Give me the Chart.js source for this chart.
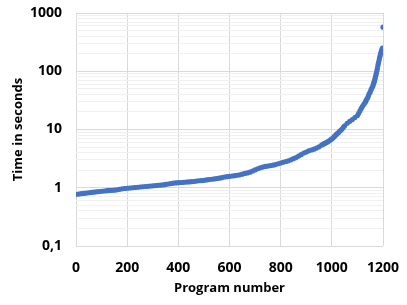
<!DOCTYPE html>
<html>
<head>
<meta charset="utf-8">
<script src="https://cdn.jsdelivr.net/npm/chart.js@4"></script>
<style>
  html, body { margin: 0; padding: 0; background: #fff; }
  #wrap { width: 407px; height: 305px; }
</style>
</head>
<body>
<div id="wrap"><canvas id="runChart"></canvas></div>
<script>
// values
const programNumber = [
  0, 10, 20, 30, 40, 50, 60, 70, 80, 90,
  100, 110, 120, 130, 140, 150, 160, 170, 180, 190,
  200, 210, 220, 230, 240, 250, 260, 270, 280, 290,
  300, 310, 320, 330, 340, 350, 360, 370, 380, 390,
  400, 410, 420, 430, 440, 450, 460, 470, 480, 490,
  500, 510, 520, 530, 540, 550, 560, 570, 580, 590,
  600, 610, 620, 630, 640, 650, 660, 670, 680, 690,
  700, 710, 720, 730, 740, 750, 760, 770, 780, 790,
  800, 810, 820, 830, 840, 850, 860, 870, 880, 890,
  900, 910, 920, 930, 940, 950, 960, 965, 970, 975,
  980, 985, 990, 995, 1000, 1005, 1010, 1015, 1020, 1025,
  1030, 1035, 1040, 1045, 1050, 1060, 1070, 1080, 1090, 1100,
  1105, 1110, 1115, 1120, 1125, 1130, 1133, 1136, 1140, 1143,
  1146, 1150, 1153, 1156, 1160, 1162, 1164, 1166, 1168, 1170,
  1172, 1174, 1176, 1178, 1180, 1182, 1184, 1186, 1188, 1190,
  1192, 1194, 1196, 1198, 1200
];
const timeSeconds = [
  0.77, 0.78, 0.79, 0.80, 0.81, 0.82, 0.83, 0.84, 0.85, 0.86,
  0.87, 0.88, 0.89, 0.90, 0.905, 0.91, 0.92, 0.94, 0.96, 0.97,
  0.98, 0.99, 1.00, 1.01, 1.02, 1.03, 1.04, 1.05, 1.06, 1.07,
  1.08, 1.09, 1.10, 1.11, 1.12, 1.14, 1.16, 1.18, 1.20, 1.21,
  1.22, 1.23, 1.24, 1.25, 1.26, 1.27, 1.28, 1.30, 1.32, 1.33,
  1.34, 1.36, 1.38, 1.40, 1.42, 1.44, 1.46, 1.49, 1.53, 1.55,
  1.57, 1.59, 1.61, 1.64, 1.67, 1.71, 1.76, 1.80, 1.85, 1.93,
  2.02, 2.12, 2.20, 2.26, 2.32, 2.36, 2.40, 2.44, 2.50, 2.58,
  2.66, 2.74, 2.82, 2.90, 3.02, 3.15, 3.30, 3.50, 3.70, 3.95,
  4.10, 4.30, 4.45, 4.60, 4.80, 5.05, 5.40, 5.55, 5.70, 5.85,
  6.00, 6.20, 6.40, 6.65, 6.90, 7.20, 7.60, 8.00, 8.40, 8.80,
  9.30, 9.70, 10.2, 10.9, 11.6, 12.8, 13.8, 14.8, 16.0, 17.4,
  19.0, 21.0, 23.0, 25.0, 27.0, 29.0, 31.0, 33.0, 35.0, 38.0,
  41.0, 44.0, 48.0, 51.0, 55.0, 59.0, 63.0, 67.0, 72.0, 78.0,
  85.0, 92.0, 102, 112, 125, 137, 150, 165, 180, 195,
  210, 225, 238, 250, 570
];

const xTicks = [0, 200, 400, 600, 800, 1000, 1200];
const xTickLabels = ['0', '200', '400', '600', '800', '1000', '1200'];
const yTicks = [0.1, 1, 10, 100, 1000];
const yTickLabels = ['0,1', '1', '10', '100', '1000'];

// minor grid at 2..9 in each decade
const yGrid = [];
for (let i = 0; i < yTicks.length - 1; i++) {
  for (let m = 1; m <= 9; m++) yGrid.push(yTicks[i] * m);
}
yGrid.push(yTicks[yTicks.length - 1]);

const points = programNumber.map((p, i) => ({ x: p, y: timeSeconds[i] }));

const tickFont = { family: 'Open Sans', size: 14, weight: 'bold' };
const titleFont = { family: 'Open Sans', size: 13, weight: 'bold' };

new Chart(document.getElementById('runChart'), {
  type: 'scatter',
  data: {
    datasets: [{
      data: points,
      backgroundColor: '#4472C4',
      borderWidth: 0,
      pointRadius: 2.6,
      pointHoverRadius: 2.6
    }]
  },
  options: {
    responsive: true,
    maintainAspectRatio: false,
    animation: false,
    layout: { padding: { top: 13, right: 24, left: 0, bottom: 0 } },
    plugins: { legend: { display: false }, tooltip: { enabled: false } },
    scales: {
      x: {
        type: 'linear',
        min: 0,
        max: 1200,
        afterBuildTicks: (scale) => { scale.ticks = xTicks.map(v => ({ value: v })); },
        afterFit: (scale) => {
          scale.height = 59;
          scale.paddingLeft = 0;
          scale.paddingRight = 0;
        },
        ticks: {
          color: '#000',
          font: tickFont,
          padding: 14,
          maxRotation: 0,
          callback: (v) => {
            const k = xTicks.indexOf(v);
            return k >= 0 ? xTickLabels[k] : '';
          }
        },
        grid: { color: '#d9d9d9', drawTicks: false },
        border: { display: false },
        title: { display: true, text: 'Program number', color: '#000', font: titleFont, padding: { top: 0, bottom: 9 } }
      },
      y: {
        type: 'logarithmic',
        min: 0.1,
        max: 1000,
        afterBuildTicks: (scale) => { scale.ticks = yGrid.map(v => ({ value: v })); },
        afterFit: (scale) => {
          scale.width = 76;
          scale.paddingTop = 0;
          scale.paddingBottom = 0;
        },
        ticks: {
          color: '#000',
          font: tickFont,
          padding: 14,
          autoSkip: false,
          callback: (v) => {
            const k = yTicks.indexOf(v);
            return k >= 0 ? yTickLabels[k] : '';
          }
        },
        grid: {
          drawTicks: false,
          color: (ctx) => yTicks.indexOf(ctx.tick.value) >= 0 ? '#d9d9d9' : '#f0f0f0'
        },
        border: { display: false },
        title: { display: true, text: 'Time in seconds', color: '#000', font: titleFont, padding: { top: 10, bottom: 0 } }
      }
    }
  }
});
</script>
</body>
</html>
